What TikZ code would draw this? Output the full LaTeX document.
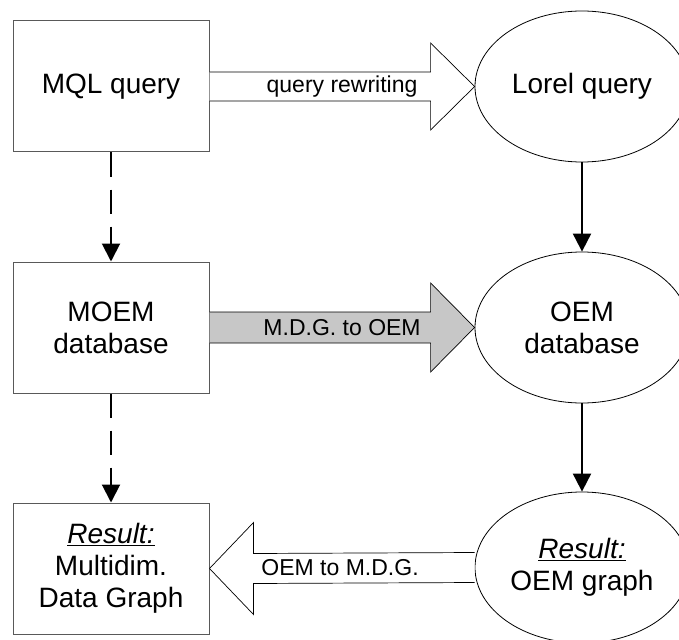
\documentclass[tikz,border=0pt]{standalone}
\usepackage{fontspec}
\setmainfont{Liberation Sans}
\usetikzlibrary{arrows.meta,shapes.geometric,calc}
\begin{document}
\begin{tikzpicture}[x=1pt,y=-1pt,
  boxnode/.style={draw=black!65, line width=1pt, minimum width=196pt, minimum height=131pt, inner sep=0pt, align=center, font=\fontsize{28}{32}\selectfont},
  ellnode/.style={ellipse, draw, line width=0.8pt, minimum width=214pt, minimum height=151pt, inner sep=0pt, align=center, font=\fontsize{28}{32}\selectfont},
  flowarrow/.style={line width=2pt, -{Triangle[length=18pt,width=18pt]}},
  dasharrow/.style={flowarrow, dash pattern=on 24pt off 13pt},
  blockarrow/.style={draw, line width=0.7pt, fill=white},
  arrowlabel/.style={font=\fontsize{23}{26}\selectfont, inner sep=0pt}
]
\useasboundingbox (0,0) rectangle (679,639);
\clip (0,0) rectangle (679,639);

\node[boxnode] (mql) at (111,86.5) {MQL query};
\node[boxnode] (moem) at (111,327.5) {MOEM\\database};
\node[boxnode] (res) at (111,568.5) {\underline{\textit{Result:}}\\Multidim.\\Data Graph};

\node[ellnode] (lorel) at (582,86.5) {Lorel query};
\node[ellnode] (oemdb) at (582,327.5) {OEM\\database};
\node[ellnode] (oemg) at (582,567.5) {\underline{\textit{Result:}}\\OEM graph};

% block arrows
\draw[blockarrow] ($(mql.east)+(0,-14.5)$) -- ($(lorel.west)+(-44,-14.5)$) -- ($(lorel.west)+(-44,-43.5)$) -- (lorel.west) -- ($(lorel.west)+(-44,43.5)$) -- ($(lorel.west)+(-44,14.5)$) -- ($(mql.east)+(0,14.5)$);
\node[arrowlabel] (l1) at ($(mql.east)!0.5!(lorel.west)$) {query rewriting};

\draw[blockarrow, fill=black!22] ($(moem.east)+(0,-15.5)$) -- ($(oemdb.west)+(-44,-15.5)$) -- ($(oemdb.west)+(-44,-44.5)$) -- (oemdb.west) -- ($(oemdb.west)+(-44,44.5)$) -- ($(oemdb.west)+(-44,15.5)$) -- ($(moem.east)+(0,15.5)$);
\node[arrowlabel] (l2) at ($(moem.east)!0.5!(oemdb.west)$) {M.D.G. to OEM};

\draw[blockarrow] ($(oemg.west)+(0,-15)$) -- ($(res.east)+(44,-15)$) -- ($(res.east)+(44,-46)$) -- (res.east) -- ($(res.east)+(44,46)$) -- ($(res.east)+(44,15)$) -- ($(oemg.west)+(0,15)$);
\node[arrowlabel] (l3) at ($(res.east)!0.5!(oemg.west)+(-2,0)$) {OEM to M.D.G.};

% connectors
\draw[dasharrow] (mql.south) -- (moem.north);
\draw[dasharrow] (moem.south) -- (res.north);
\draw[flowarrow] (lorel.south) -- (oemdb.north);
\draw[flowarrow] (oemdb.south) -- (oemg.north);
\end{tikzpicture}
\end{document}
